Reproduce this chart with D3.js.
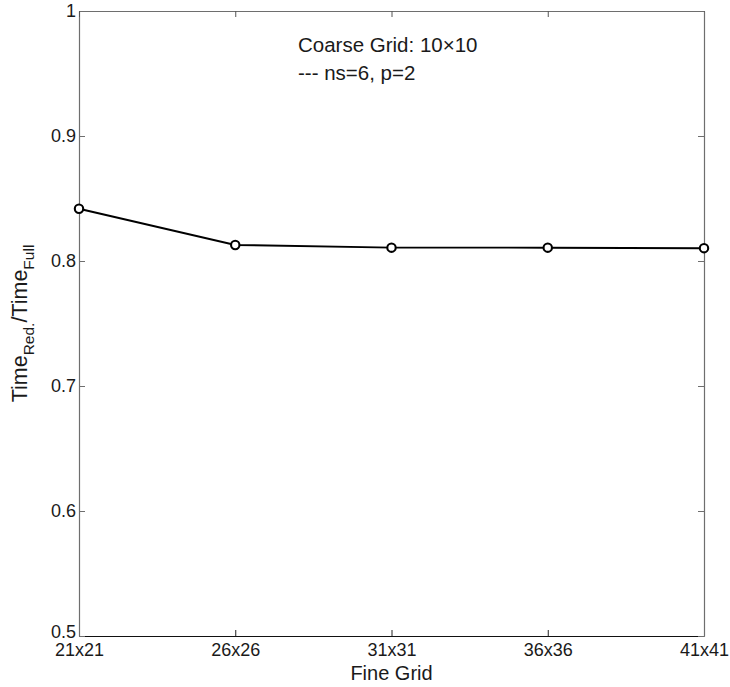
<!DOCTYPE html>
<html>
<head>
<meta charset="utf-8">
<script src="https://cdn.jsdelivr.net/npm/d3@7"></script>
<style>
  html, body { margin: 0; padding: 0; background: #fff; }
  svg { display: block; }
  text { font-family: "Liberation Sans", Arial, sans-serif; fill: #1a1a1a; }
</style>
</head>
<body>
<script>
// Fine-grid sizes and the reduced/full time ratio measured for each
const fineGrids = ["21x21", "26x26", "31x31", "36x36", "41x41"];
const timeRatio = [0.8418, 0.8128, 0.8107, 0.8107, 0.8103];
const yTicks = [0.5, 0.6, 0.7, 0.8, 0.9, 1];
const noteLines = ["Coarse Grid: 10\u00d710", "--- ns=6, p=2"];

const W = 730, H = 687;
const margin = { left: 79, right: 26, top: 11, bottom: 51 };
const iw = W - margin.left - margin.right;
const ih = H - margin.top - margin.bottom;

const svg = d3.select("body").append("svg")
  .attr("width", W).attr("height", H);
const g = svg.append("g")
  .attr("transform", `translate(${margin.left},${margin.top})`);

const x = d3.scalePoint().domain(fineGrids).range([0, iw]).padding(0);
const y = d3.scaleLinear().domain([0.5, 1]).range([ih, 0]);

const tickFont = "18px";

// Bottom axis with inward ticks and labels
const xAxis = g.append("g")
  .attr("transform", `translate(0,${ih})`)
  .call(d3.axisBottom(x).tickSizeInner(-6).tickSizeOuter(0).tickPadding(7));
xAxis.select(".domain").attr("stroke", "#111").attr("stroke-width", 1.2);
xAxis.selectAll(".tick line").attr("stroke", "#222");
xAxis.selectAll("text").style("font-size", tickFont).attr("fill", "#1a1a1a");

// Left axis; the lowest label is lifted a touch clear of the first category name
const yAxis = g.append("g")
  .call(d3.axisLeft(y).tickValues(yTicks).tickFormat(d3.format("~g"))
    .tickSizeInner(-6).tickSizeOuter(0).tickPadding(3));
yAxis.select(".domain").attr("stroke", "#6e6e6e").attr("stroke-width", 1.2);
yAxis.selectAll(".tick line").attr("stroke", "#6e6e6e");
yAxis.selectAll("text").style("font-size", tickFont).attr("fill", "#1a1a1a");
yAxis.selectAll(".tick").filter(d => d === 0.5).select("text").attr("dy", "0.1em");

// Top and right box edges with inward ticks, no labels
const topAxis = g.append("g")
  .call(d3.axisTop(x).tickSizeInner(-6).tickSizeOuter(0).tickFormat(""));
topAxis.select(".domain").attr("stroke", "#6e6e6e").attr("stroke-width", 1.2);
topAxis.selectAll(".tick line").attr("stroke", "#555");

const rightAxis = g.append("g")
  .attr("transform", `translate(${iw},0)`)
  .call(d3.axisRight(y).tickValues(yTicks).tickSizeInner(-6).tickSizeOuter(0).tickFormat(""));
rightAxis.select(".domain").attr("stroke", "#6e6e6e").attr("stroke-width", 1.2);
rightAxis.selectAll(".tick line").attr("stroke", "#6e6e6e");

// Data line with circle markers
const pts = fineGrids.map((k, i) => ({ k, v: timeRatio[i] }));
g.append("path")
  .datum(pts)
  .attr("fill", "none")
  .attr("stroke", "#000")
  .attr("stroke-width", 2)
  .attr("d", d3.line().x(d => x(d.k)).y(d => y(d.v)));

g.selectAll("circle.mk")
  .data(pts)
  .join("circle")
  .attr("class", "mk")
  .attr("cx", d => x(d.k))
  .attr("cy", d => y(d.v))
  .attr("r", 4.2)
  .attr("fill", "#fff")
  .attr("stroke", "#000")
  .attr("stroke-width", 2.1);

// Annotation
noteLines.forEach((t, i) => {
  svg.append("text")
    .attr("x", 298)
    .attr("y", 52 + i * 28)
    .style("font-size", "20.5px")
    .text(t);
});

// X axis title
svg.append("text")
  .attr("x", margin.left + iw / 2)
  .attr("y", 680)
  .attr("text-anchor", "middle")
  .style("font-size", "20px")
  .text("Fine Grid");

// Y axis title with subscripts
const yl = svg.append("text")
  .attr("transform", `translate(27,${margin.top + ih / 2}) rotate(-90)`)
  .attr("text-anchor", "middle")
  .style("font-size", "21.5px");
yl.append("tspan").text("Time");
yl.append("tspan").attr("dy", 7).style("font-size", "15.5px").text("Red.");
yl.append("tspan").attr("dy", -7).text("/Time");
yl.append("tspan").attr("dy", 7).style("font-size", "15.5px").text("Full");
</script>
</body>
</html>
